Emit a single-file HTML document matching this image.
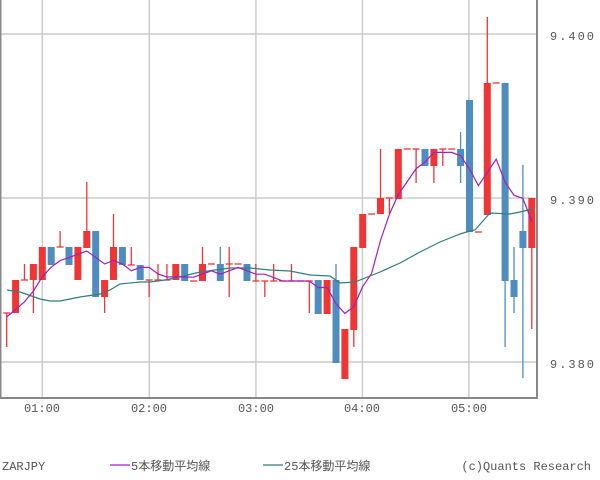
<!DOCTYPE html>
<html><head><meta charset="utf-8"><style>
body{margin:0;background:#fff;width:600px;height:475px;overflow:hidden}
svg text{font-family:"Liberation Mono","Noto Sans CJK JP",monospace;font-size:12px;fill:#555}
</style></head><body>
<svg id="s" width="600" height="475" xmlns="http://www.w3.org/2000/svg">
<g stroke="#cccccc" stroke-width="1.5">
<line x1="0" y1="34" x2="537" y2="34"/><line x1="0" y1="198" x2="537" y2="198"/><line x1="0" y1="362" x2="537" y2="362"/>
<line x1="42.3" y1="0" x2="42.3" y2="398"/><line x1="149.3" y1="0" x2="149.3" y2="398"/><line x1="255.9" y1="0" x2="255.9" y2="398"/><line x1="362.4" y1="0" x2="362.4" y2="398"/><line x1="468.9" y1="0" x2="468.9" y2="398"/>
</g>
<g id="c"></g>
<polyline fill="none" stroke="#2f7f7a" stroke-width="1.2" points="7,290 20,292 40,299 50,301 60,301 80,297 100,294 110,290 120,284 140,282 150,282 165,280 175,278 200,272 230,268 250,268 270,270 290,271 310,275 330,276 340,283 355,282 365,278 380,272 400,263 420,252 440,242 460,234 470,231 475,230 490,213 510,214 520,212 532,209"/>
<polyline id="ma5" fill="none" stroke="#a020c0" stroke-width="1.2"/>
<g stroke="#888" stroke-width="2"><line x1="0.5" y1="0" x2="0.5" y2="399"/><line x1="537" y1="0" x2="537" y2="399"/><line x1="0" y1="398" x2="538" y2="398"/></g>
<text x="550" y="40" letter-spacing="2">9.400</text>
<text x="550" y="204" letter-spacing="2">9.390</text>
<text x="550" y="368" letter-spacing="2">9.380</text>
<g text-anchor="middle"><text x="42" y="412">01:00</text><text x="149" y="412">02:00</text><text x="256" y="412">03:00</text><text x="362" y="412">04:00</text><text x="469" y="412">05:00</text></g>
<text x="2" y="470">ZARJPY</text>
<line x1="110" y1="465" x2="130" y2="465" stroke="#a020c0" stroke-width="1.2"/>
<text x="131" y="470">5本移動平均線</text>
<line x1="263" y1="465" x2="283" y2="465" stroke="#2f7f7a" stroke-width="1.2"/>
<text x="284" y="470">25本移動平均線</text>
<text x="591" y="470" text-anchor="end">(c)Quants Research</text>
</svg>
<script>
var d=[[313,313,313,347],[313,280],[280,280,264],[280,264,264,313],[280,247],[247,265],[247,247,231],[247,265],[280,247],[248,231,182],
[231,297],[297,280,280,313],[280,247,214],[247,265],[265,265,247],[265,280],[280,280,280,297],[280,280,264],[280,280,264],[280,264],
[264,281],[281,281],[281,264,247],[264,264],[264,281,247],[264,264,247,297],[264,264],[264,281],[281,281,264],[281,281,281,297],
[281,281,264],[281,281],[281,281,264],[281,281],[281,281,281,313],[280,314],[314,280],[280,363,264],[379,329],[330,247,247,347],
[248,214],[214,214],[214,198,149],[198,198,198,214],[199,149],[149,149],[149,149,149,183],[149,166],[166,149,149,183],[149,149,149,166],
[149,149],[149,166,132,183],[100,232],[232,232],[215,83,17],[83,83],[83,281,83,347],[280,297,247,313],[231,248,165,378],[248,198,198,329]];
var g=document.getElementById('c'),h='',pts=[],cl=[];
d.forEach(function(c,i){var x=6.7+8.9*i,o=c[0],k=c[1],hi=c[2]===undefined?Math.min(o,k):c[2],lo=c[3]===undefined?Math.max(o,k):c[3];
var col=k<o?'#f03535':(k>o?'#4f8cbf':'#f03535');
if(hi<Math.min(o,k)||lo>Math.max(o,k))h+='<line x1="'+x+'" y1="'+hi+'" x2="'+x+'" y2="'+lo+'" stroke="'+col+'" stroke-width="1.3"/>';
if(o===k)h+='<line x1="'+(x-3.5)+'" y1="'+o+'" x2="'+(x+3.5)+'" y2="'+o+'" stroke="'+col+'" stroke-width="1.3"/>';
else h+='<rect x="'+(x-3.5)+'" y="'+Math.min(o,k)+'" width="7" height="'+Math.abs(o-k)+'" fill="'+col+'"/>';
cl.push(k);var s=0,n=0;for(var j=Math.max(0,i-4);j<=i;j++){s+=cl[j];n++;}
pts.push(x.toFixed(1)+','+(i<4?(s+(5-n)*318)/5:s/5).toFixed(1));});
g.innerHTML=h;document.getElementById('ma5').setAttribute('points',pts.join(' '));
</script>
</body></html>
